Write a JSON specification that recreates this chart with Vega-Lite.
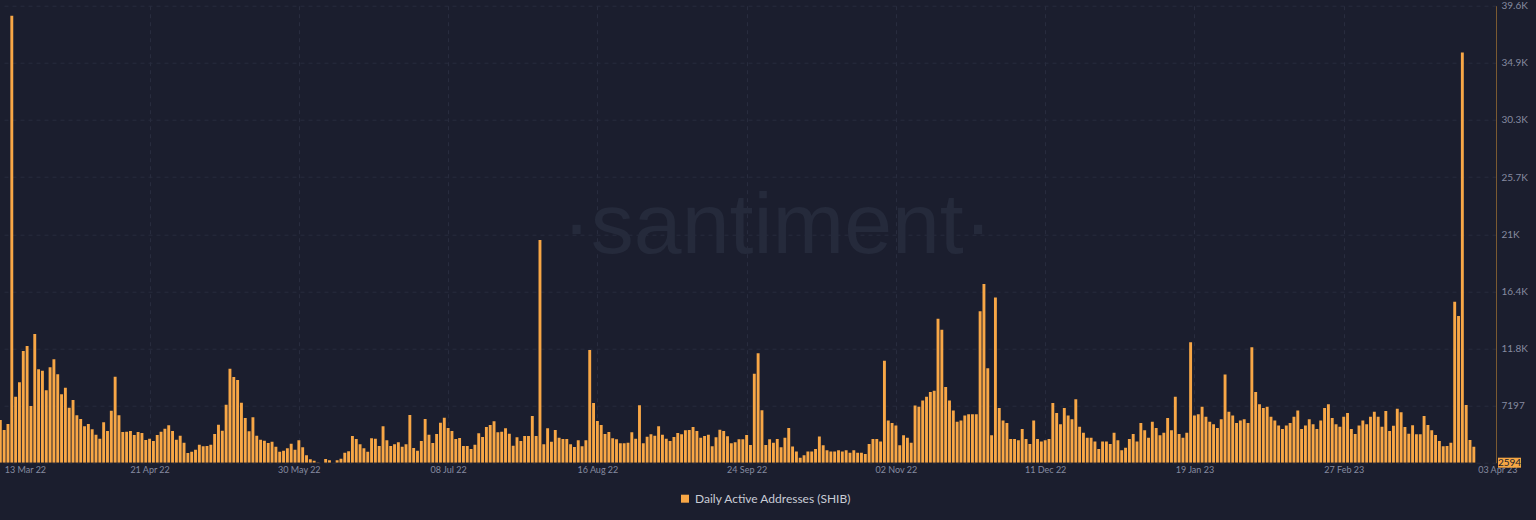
{
  "$schema": "https://vega.github.io/schema/vega-lite/v6.json",
  "width": 1496,
  "height": 457,
  "autosize": {"type": "none"},
  "padding": {"left": 0, "top": 5.7, "right": 40, "bottom": 57.3},
  "background": "#1b1e2e",
  "config": {"view": {"stroke": null}, "font": "Lato"},
  "datasets": {
    "daa": [
      {"d":"2022-03-13","v":6034},{"d":"2022-03-14","v":5227},{"d":"2022-03-15","v":5711},{"d":"2022-03-16","v":38600},{"d":"2022-03-17","v":7914},{"d":"2022-03-18","v":9070},{"d":"2022-03-19","v":11595},{"d":"2022-03-20","v":11998},{"d":"2022-03-21","v":7162},{"d":"2022-03-22","v":12966},{"d":"2022-03-23","v":10118},{"d":"2022-03-24","v":10010},{"d":"2022-03-25","v":8425},{"d":"2022-03-26","v":10279},{"d":"2022-03-27","v":10924},{"d":"2022-03-28","v":9715},{"d":"2022-03-29","v":8102},{"d":"2022-03-30","v":8640},{"d":"2022-03-31","v":7028},
      {"d":"2022-04-01","v":7645},{"d":"2022-04-02","v":6410},{"d":"2022-04-03","v":6114},{"d":"2022-04-04","v":5523},{"d":"2022-04-05","v":5711},{"d":"2022-04-06","v":5281},{"d":"2022-04-07","v":4851},{"d":"2022-04-08","v":4528},{"d":"2022-04-09","v":5845},{"d":"2022-04-10","v":5146},{"d":"2022-04-11","v":6786},{"d":"2022-04-12","v":9527},{"d":"2022-04-13","v":6410},{"d":"2022-04-14","v":5066},{"d":"2022-04-15","v":5093},{"d":"2022-04-16","v":5146},{"d":"2022-04-17","v":4824},{"d":"2022-04-18","v":5066},{"d":"2022-04-19","v":4985},{"d":"2022-04-20","v":4421},{"d":"2022-04-21","v":4528},{"d":"2022-04-22","v":4340},{"d":"2022-04-23","v":4824},{"d":"2022-04-24","v":5093},{"d":"2022-04-25","v":5335},{"d":"2022-04-26","v":5603},{"d":"2022-04-27","v":5146},{"d":"2022-04-28","v":4448},{"d":"2022-04-29","v":4770},{"d":"2022-04-30","v":4206},
      {"d":"2022-05-01","v":3373},{"d":"2022-05-02","v":3481},{"d":"2022-05-03","v":3642},{"d":"2022-05-04","v":4045},{"d":"2022-05-05","v":3911},{"d":"2022-05-06","v":3937},{"d":"2022-05-07","v":4045},{"d":"2022-05-08","v":4905},{"d":"2022-05-09","v":5657},{"d":"2022-05-10","v":5173},{"d":"2022-05-11","v":7269},{"d":"2022-05-12","v":10171},{"d":"2022-05-13","v":9500},{"d":"2022-05-14","v":9258},{"d":"2022-05-15","v":7431},{"d":"2022-05-16","v":6195},{"d":"2022-05-17","v":5120},{"d":"2022-05-18","v":6248},{"d":"2022-05-19","v":4770},{"d":"2022-05-20","v":4448},{"d":"2022-05-21","v":4367},{"d":"2022-05-22","v":4179},{"d":"2022-05-23","v":4287},{"d":"2022-05-24","v":3884},{"d":"2022-05-25","v":3481},{"d":"2022-05-26","v":3562},{"d":"2022-05-27","v":3750},{"d":"2022-05-28","v":4125},{"d":"2022-05-29","v":3642},{"d":"2022-05-30","v":4394},{"d":"2022-05-31","v":3830},
      {"d":"2022-06-01","v":3185},{"d":"2022-06-02","v":2863},{"d":"2022-06-03","v":2755},{"d":"2022-06-04","v":2620},{"d":"2022-06-05","v":2594},{"d":"2022-06-06","v":2890},{"d":"2022-06-07","v":2782},{"d":"2022-06-08","v":2600},{"d":"2022-06-09","v":2782},{"d":"2022-06-10","v":2916},{"d":"2022-06-11","v":3400},{"d":"2022-06-12","v":3508},{"d":"2022-06-13","v":4744},{"d":"2022-06-14","v":4502},{"d":"2022-06-15","v":4072},{"d":"2022-06-16","v":3750},{"d":"2022-06-17","v":3481},{"d":"2022-06-18","v":4556},{"d":"2022-06-19","v":4528},{"d":"2022-06-20","v":3937},{"d":"2022-06-21","v":5523},{"d":"2022-06-22","v":4394},{"d":"2022-06-23","v":3937},{"d":"2022-06-24","v":4072},{"d":"2022-06-25","v":4233},{"d":"2022-06-26","v":3884},{"d":"2022-06-27","v":4072},{"d":"2022-06-28","v":6437},{"d":"2022-06-29","v":3777},{"d":"2022-06-30","v":3562},
      {"d":"2022-07-01","v":4340},{"d":"2022-07-02","v":6114},{"d":"2022-07-03","v":4851},{"d":"2022-07-04","v":4179},{"d":"2022-07-05","v":4905},{"d":"2022-07-06","v":5818},{"d":"2022-07-07","v":6221},{"d":"2022-07-08","v":5388},{"d":"2022-07-09","v":5146},{"d":"2022-07-10","v":4502},{"d":"2022-07-11","v":4582},{"d":"2022-07-12","v":3937},{"d":"2022-07-13","v":3937},{"d":"2022-07-14","v":3696},{"d":"2022-07-15","v":4045},{"d":"2022-07-16","v":4958},{"d":"2022-07-17","v":4663},{"d":"2022-07-18","v":5469},{"d":"2022-07-19","v":5630},{"d":"2022-07-20","v":5925},{"d":"2022-07-21","v":5039},{"d":"2022-07-22","v":5093},{"d":"2022-07-23","v":5361},{"d":"2022-07-24","v":4932},{"d":"2022-07-25","v":3964},{"d":"2022-07-26","v":4636},{"d":"2022-07-27","v":4340},{"d":"2022-07-28","v":4744},{"d":"2022-07-29","v":4744},{"d":"2022-07-30","v":6356},{"d":"2022-07-31","v":4744},
      {"d":"2022-08-01","v":20543},{"d":"2022-08-02","v":4072},{"d":"2022-08-03","v":5361},{"d":"2022-08-04","v":4287},{"d":"2022-08-05","v":5227},{"d":"2022-08-06","v":4609},{"d":"2022-08-07","v":4502},{"d":"2022-08-08","v":4502},{"d":"2022-08-09","v":4072},{"d":"2022-08-10","v":3857},{"d":"2022-08-11","v":4394},{"d":"2022-08-12","v":3911},{"d":"2022-08-13","v":4394},{"d":"2022-08-14","v":11676},{"d":"2022-08-15","v":7404},{"d":"2022-08-16","v":5952},{"d":"2022-08-17","v":5630},{"d":"2022-08-18","v":4905},{"d":"2022-08-19","v":5066},{"d":"2022-08-20","v":4556},{"d":"2022-08-21","v":4475},{"d":"2022-08-22","v":4152},{"d":"2022-08-23","v":4152},{"d":"2022-08-24","v":4206},{"d":"2022-08-25","v":5039},{"d":"2022-08-26","v":4528},{"d":"2022-08-27","v":7216},{"d":"2022-08-28","v":4152},{"d":"2022-08-29","v":4690},{"d":"2022-08-30","v":4878},{"d":"2022-08-31","v":4770},
      {"d":"2022-09-01","v":5523},{"d":"2022-09-02","v":4851},{"d":"2022-09-03","v":4528},{"d":"2022-09-04","v":4340},{"d":"2022-09-05","v":4663},{"d":"2022-09-06","v":4985},{"d":"2022-09-07","v":4878},{"d":"2022-09-08","v":5200},{"d":"2022-09-09","v":5227},{"d":"2022-09-10","v":5469},{"d":"2022-09-11","v":5146},{"d":"2022-09-12","v":4609},{"d":"2022-09-13","v":4744},{"d":"2022-09-14","v":4851},{"d":"2022-09-15","v":3911},{"d":"2022-09-16","v":4636},{"d":"2022-09-17","v":5254},{"d":"2022-09-18","v":5146},{"d":"2022-09-19","v":4717},{"d":"2022-09-20","v":4152},{"d":"2022-09-21","v":4233},{"d":"2022-09-22","v":4475},{"d":"2022-09-23","v":4475},{"d":"2022-09-24","v":4824},{"d":"2022-09-25","v":4018},{"d":"2022-09-26","v":9768},{"d":"2022-09-27","v":11408},{"d":"2022-09-28","v":6813},{"d":"2022-09-29","v":4018},{"d":"2022-09-30","v":4475},
      {"d":"2022-10-01","v":4206},{"d":"2022-10-02","v":4502},{"d":"2022-10-03","v":3830},{"d":"2022-10-04","v":4600},{"d":"2022-10-05","v":5400},{"d":"2022-10-06","v":3900},{"d":"2022-10-07","v":3500},{"d":"2022-10-08","v":3000},{"d":"2022-10-09","v":3200},{"d":"2022-10-10","v":3500},{"d":"2022-10-11","v":3500},{"d":"2022-10-12","v":3700},{"d":"2022-10-13","v":4700},{"d":"2022-10-14","v":4000},{"d":"2022-10-15","v":3600},{"d":"2022-10-16","v":3500},{"d":"2022-10-17","v":3500},{"d":"2022-10-18","v":3600},{"d":"2022-10-19","v":3500},{"d":"2022-10-20","v":3600},{"d":"2022-10-21","v":3400},{"d":"2022-10-22","v":3600},{"d":"2022-10-23","v":3400},{"d":"2022-10-24","v":3400},{"d":"2022-10-25","v":3300},{"d":"2022-10-26","v":4100},{"d":"2022-10-27","v":4500},{"d":"2022-10-28","v":4500},{"d":"2022-10-29","v":4300},{"d":"2022-10-30","v":10800},{"d":"2022-10-31","v":6000},
      {"d":"2022-11-01","v":5800},{"d":"2022-11-02","v":5600},{"d":"2022-11-03","v":4000},{"d":"2022-11-04","v":4800},{"d":"2022-11-05","v":4600},{"d":"2022-11-06","v":4200},{"d":"2022-11-07","v":7200},{"d":"2022-11-08","v":7100},{"d":"2022-11-09","v":7600},{"d":"2022-11-10","v":7900},{"d":"2022-11-11","v":8300},{"d":"2022-11-12","v":8400},{"d":"2022-11-13","v":14200},{"d":"2022-11-14","v":13300},{"d":"2022-11-15","v":8700},{"d":"2022-11-16","v":7600},{"d":"2022-11-17","v":6800},{"d":"2022-11-18","v":5900},{"d":"2022-11-19","v":6000},{"d":"2022-11-20","v":6400},{"d":"2022-11-21","v":6500},{"d":"2022-11-22","v":6500},{"d":"2022-11-23","v":6500},{"d":"2022-11-24","v":14800},{"d":"2022-11-25","v":17000},{"d":"2022-11-26","v":10200},{"d":"2022-11-27","v":4800},{"d":"2022-11-28","v":15900},{"d":"2022-11-29","v":7000},{"d":"2022-11-30","v":6000},
      {"d":"2022-12-01","v":5800},{"d":"2022-12-02","v":4500},{"d":"2022-12-03","v":4500},{"d":"2022-12-04","v":4400},{"d":"2022-12-05","v":5300},{"d":"2022-12-06","v":4500},{"d":"2022-12-07","v":4100},{"d":"2022-12-08","v":6000},{"d":"2022-12-09","v":4500},{"d":"2022-12-10","v":4300},{"d":"2022-12-11","v":4400},{"d":"2022-12-12","v":4500},{"d":"2022-12-13","v":7400},{"d":"2022-12-14","v":6600},{"d":"2022-12-15","v":5700},{"d":"2022-12-16","v":7000},{"d":"2022-12-17","v":6400},{"d":"2022-12-18","v":6100},{"d":"2022-12-19","v":7700},{"d":"2022-12-20","v":5500},{"d":"2022-12-21","v":5000},{"d":"2022-12-22","v":4600},{"d":"2022-12-23","v":4600},{"d":"2022-12-24","v":4300},{"d":"2022-12-25","v":3700},{"d":"2022-12-26","v":4300},{"d":"2022-12-27","v":4300},{"d":"2022-12-28","v":4100},{"d":"2022-12-29","v":5000},{"d":"2022-12-30","v":4400},{"d":"2022-12-31","v":3600},
      {"d":"2023-01-01","v":3800},{"d":"2023-01-02","v":4500},{"d":"2023-01-03","v":4900},{"d":"2023-01-04","v":4300},{"d":"2023-01-05","v":5800},{"d":"2023-01-06","v":5200},{"d":"2023-01-07","v":4600},{"d":"2023-01-08","v":5900},{"d":"2023-01-09","v":5400},{"d":"2023-01-10","v":4800},{"d":"2023-01-11","v":5000},{"d":"2023-01-12","v":6200},{"d":"2023-01-13","v":5200},{"d":"2023-01-14","v":7900},{"d":"2023-01-15","v":4900},{"d":"2023-01-16","v":4600},{"d":"2023-01-17","v":5000},{"d":"2023-01-18","v":12300},{"d":"2023-01-19","v":6400},{"d":"2023-01-20","v":6500},{"d":"2023-01-21","v":7100},{"d":"2023-01-22","v":6300},{"d":"2023-01-23","v":5900},{"d":"2023-01-24","v":5700},{"d":"2023-01-25","v":5400},{"d":"2023-01-26","v":6100},{"d":"2023-01-27","v":9700},{"d":"2023-01-28","v":6700},{"d":"2023-01-29","v":6400},{"d":"2023-01-30","v":5800},{"d":"2023-01-31","v":6000},
      {"d":"2023-02-01","v":6100},{"d":"2023-02-02","v":5800},{"d":"2023-02-03","v":11900},{"d":"2023-02-04","v":8300},{"d":"2023-02-05","v":7300},{"d":"2023-02-06","v":7000},{"d":"2023-02-07","v":7100},{"d":"2023-02-08","v":6300},{"d":"2023-02-09","v":6000},{"d":"2023-02-10","v":5600},{"d":"2023-02-11","v":5300},{"d":"2023-02-12","v":5600},{"d":"2023-02-13","v":5800},{"d":"2023-02-14","v":6300},{"d":"2023-02-15","v":6800},{"d":"2023-02-16","v":5300},{"d":"2023-02-17","v":5600},{"d":"2023-02-18","v":6100},{"d":"2023-02-19","v":5700},{"d":"2023-02-20","v":5300},{"d":"2023-02-21","v":6000},{"d":"2023-02-22","v":7000},{"d":"2023-02-23","v":7300},{"d":"2023-02-24","v":6200},{"d":"2023-02-25","v":5700},{"d":"2023-02-26","v":5500},{"d":"2023-02-27","v":6300},{"d":"2023-02-28","v":6600},
      {"d":"2023-03-01","v":5300},{"d":"2023-03-02","v":4900},{"d":"2023-03-03","v":5600},{"d":"2023-03-04","v":6000},{"d":"2023-03-05","v":5700},{"d":"2023-03-06","v":6300},{"d":"2023-03-07","v":6700},{"d":"2023-03-08","v":6300},{"d":"2023-03-09","v":5496},{"d":"2023-03-10","v":6761},{"d":"2023-03-11","v":5150},{"d":"2023-03-12","v":5576},{"d":"2023-03-13","v":6946},{"d":"2023-03-14","v":6655},{"d":"2023-03-15","v":5470},{"d":"2023-03-16","v":4931},{"d":"2023-03-17","v":5609},{"d":"2023-03-18","v":4880},{"d":"2023-03-19","v":4880},{"d":"2023-03-20","v":6360},{"d":"2023-03-21","v":5630},{"d":"2023-03-22","v":5205},{"d":"2023-03-23","v":4827},{"d":"2023-03-24","v":4343},{"d":"2023-03-25","v":3915},{"d":"2023-03-26","v":3930},{"d":"2023-03-27","v":4206},{"d":"2023-03-28","v":15571},{"d":"2023-03-29","v":14418},{"d":"2023-03-30","v":35640},{"d":"2023-03-31","v":7244},
      {"d":"2023-04-01","v":4424},{"d":"2023-04-02","v":3884}
    ]
  },
  "layer": [
    {
      "data": {"values": [{}]},
      "mark": {"type": "text", "text": "·santiment·", "font": "Liberation Sans", "fontSize": 86, "color": "#252a3b", "align": "center", "baseline": "alphabetic"},
      "encoding": {
        "x": {"datum": {"year": 2022, "month": 10, "date": 2, "utc": true}, "type": "temporal"},
        "y": {"datum": 19472, "type": "quantitative"}
      }
    },
    {
      "data": {"name": "daa"},
      "mark": {"type": "bar", "width": 2.9, "clip": true},
      "encoding": {
        "x": {
          "field": "d", "type": "temporal",
          "scale": {"type": "utc", "padding": 0, "domain": [{"year": 2022, "month": 3, "date": 12, "hours": 22, "utc": true}, {"year": 2023, "month": 4, "date": 7, "hours": 19, "utc": true}]},
          "axis": {
            "title": null,
            "values": [
              {"year": 2022, "month": 3, "date": 13, "utc": true},
              {"year": 2022, "month": 4, "date": 21, "utc": true},
              {"year": 2022, "month": 5, "date": 30, "utc": true},
              {"year": 2022, "month": 7, "date": 8, "utc": true},
              {"year": 2022, "month": 8, "date": 16, "utc": true},
              {"year": 2022, "month": 9, "date": 24, "utc": true},
              {"year": 2022, "month": 11, "date": 2, "utc": true},
              {"year": 2022, "month": 12, "date": 11, "utc": true},
              {"year": 2023, "month": 1, "date": 19, "utc": true},
              {"year": 2023, "month": 2, "date": 27, "utc": true},
              {"year": 2023, "month": 4, "date": 3, "utc": true}
            ],
            "labelExpr": "utcFormat(datum.value, '%d %b %y')",
            "domain": false,
            "ticks": false,
            "labelPadding": 3,
            "labelBaseline": "top",
            "labelColor": "#868ba0",
            "labelFontSize": 9,
            "labelFont": "Lato",
            "labelOverlap": false,
            "labelFlush": false,
            "labelAlign": {"condition": {"test": "datum.value < 1647200000000 || datum.value > 1680000000000", "value": "left"}, "value": "center"},
            "labelOffset": {"condition": {"test": "datum.value < 1647200000000", "value": 4}, "value": 0},
            "grid": true,
            "gridColor": "#282c3e",
            "gridDash": [4, 4],
            "gridOpacity": {"condition": {"test": "datum.value < 1647200000000 || datum.value > 1680000000000", "value": 0}, "value": 1}
          }
        },
        "y": {
          "field": "v", "type": "quantitative",
          "scale": {"domain": [2594, 39418], "zero": false, "nice": false},
          "axis": {
            "title": null,
            "orient": "right",
            "values": [2594, 7197, 11800, 16403, 21006, 25609, 30212, 34815, 39418],
            "labelExpr": "datum.value < 3000 ? '' : datum.value < 8000 ? '7197' : datum.value < 12000 ? '11.8K' : datum.value < 17000 ? '16.4K' : datum.value < 22000 ? '21K' : datum.value < 26000 ? '25.7K' : datum.value < 31000 ? '30.3K' : datum.value < 35000 ? '34.9K' : '39.6K'",
            "domain": true,
            "domainColor": "#7b5a31",
            "domainWidth": 1,
            "ticks": false,
            "labelPadding": 5,
            "labelColor": "#868ba0",
            "labelFontSize": 10,
            "labelFont": "Lato",
            "labelBaseline": "middle",
            "labelFlush": false,
            "labelOverlap": false,
            "grid": true,
            "gridColor": "#282c3e",
            "gridDash": [4, 4]
          }
        },
        "y2": {"datum": 2594},
        "color": {
          "datum": "Daily Active Addresses (SHIB)",
          "scale": {"range": ["#f8a746"]},
          "legend": {
            "title": null,
            "orient": "none",
            "legendX": 679,
            "legendY": 487,
            "symbolType": "square",
            "symbolSize": 64,
            "symbolStrokeWidth": 0,
            "labelColor": "#c9ccd6",
            "labelFontSize": 12,
            "labelFont": "Lato",
            "labelOffset": 4,
            "labelLimit": 400,
            "padding": 0
          }
        }
      }
    },
    {
      "data": {"values": [{}]},
      "mark": {"type": "point", "shape": "M-1.15,-0.5H1.15V0.5H-1.15Z", "size": 400, "filled": true, "color": "#f7a744", "opacity": 1, "strokeWidth": 0, "xOffset": 13.5},
      "encoding": {
        "x": {"datum": {"year": 2023, "month": 4, "date": 7, "hours": 19, "utc": true}, "type": "temporal"},
        "y": {"datum": 2594, "type": "quantitative"}
      }
    },
    {
      "data": {"values": [{}]},
      "mark": {"type": "text", "text": "2594", "fontSize": 10, "font": "Lato", "color": "#1b1e2e", "align": "center", "baseline": "middle", "xOffset": 13.5},
      "encoding": {
        "x": {"datum": {"year": 2023, "month": 4, "date": 7, "hours": 19, "utc": true}, "type": "temporal"},
        "y": {"datum": 2594, "type": "quantitative"}
      }
    }
  ]
}
